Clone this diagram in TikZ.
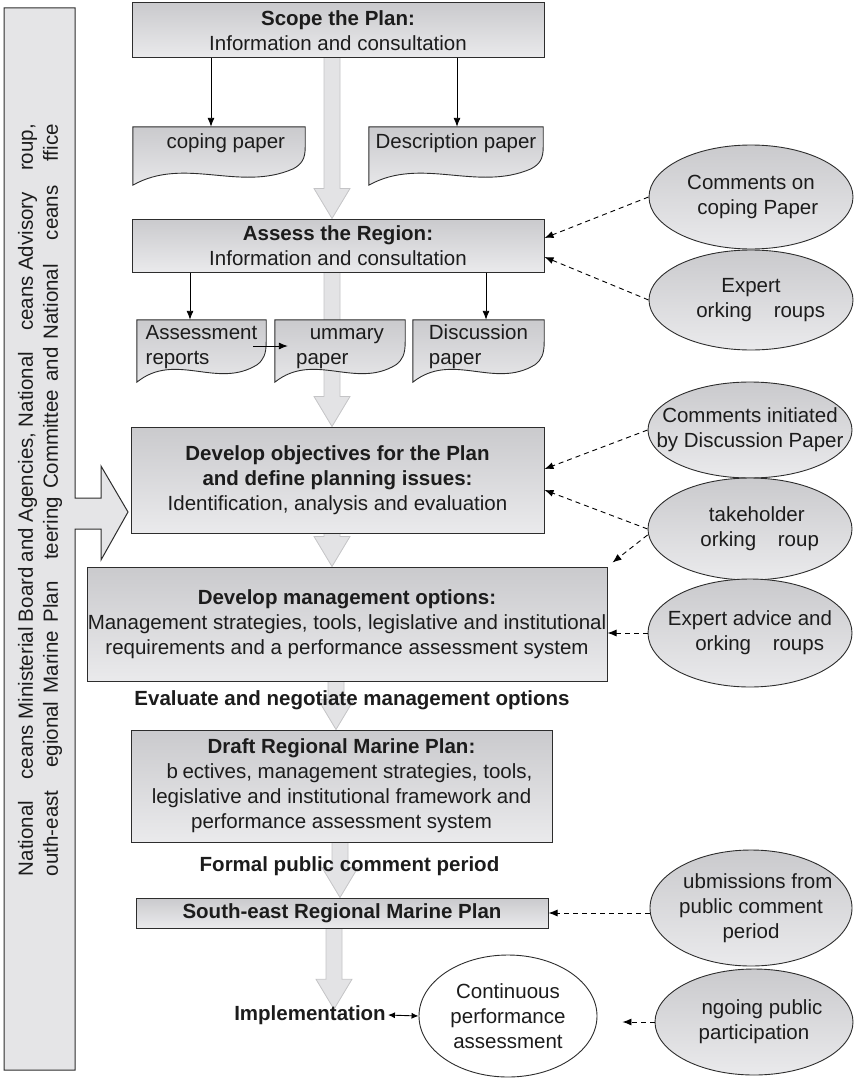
\documentclass[tikz,border=0pt]{standalone}
\usepackage{fontspec}
\setmainfont{Liberation Sans}
\usetikzlibrary{arrows.meta,calc,shapes.geometric,backgrounds}
\definecolor{boxtop}{RGB}{202,202,205}
\definecolor{boxbot}{RGB}{234,234,236}
\definecolor{lbfill}{RGB}{229,229,231}
\definecolor{linec}{RGB}{45,45,45}
\definecolor{arrfill}{RGB}{227,227,229}
\definecolor{arrline}{RGB}{196,196,198}
\definecolor{txt}{RGB}{28,28,28}
\newcommand\fatarrow[3]{\path[fatarr] let \p1=(#1), \p2=(#2), \p3=(#3,0) in
  (\x3-8pt,\y1+2pt) -- (\x3-8pt,\y2+30pt) -- (\x3-18pt,\y2+30pt) -- (\x3,\y2)
  -- (\x3+18pt,\y2+30pt) -- (\x3+8pt,\y2+30pt) -- (\x3+8pt,\y1+2pt) -- cycle;}
\newcommand\docshape[2]{\path[docsty] let \p1=(#1.north west), \p2=(#1.south east),
  \n1={(\x2)-(\x1)}, \n2={(\y1)-(\y2)+#2} in
  (\x1,\y1) -- (\x2,\y1) -- (\x2,\y1-0.35*\n2)
  .. controls (\x2,\y1-0.55*\n2) and (\x2-0.02*\n1,\y1-0.64*\n2) .. (\x2-0.07*\n1,\y1-0.72*\n2)
  .. controls (\x1+0.62*\n1,\y1-1.12*\n2) and (\x1+0.3*\n1,\y1-0.5*\n2) .. (\x1,\y1-\n2) -- cycle;}
\begin{document}
\begin{tikzpicture}[x=1pt,y=1pt,
  font=\fontsize{20.5}{25}\selectfont, text=txt,
  box/.style={rectangle,draw=linec,line width=1pt,top color=boxtop,bottom color=boxbot,align=center,inner sep=0pt},
  doctext/.style={rectangle,align=left,inner sep=0pt},
  docsty/.style={draw=linec,line width=0.9pt,top color=boxtop,bottom color=boxbot},
  oval/.style={ellipse,draw=linec,line width=0.9pt,top color=boxtop,bottom color=boxbot,inner sep=-40pt,align=center},
  whiteoval/.style={ellipse,draw=linec,line width=0.9pt,fill=white,inner sep=-40pt,align=center},
  lbox/.style={draw=linec,line width=1pt,fill=lbfill},
  fatarr/.style={fill=arrfill,draw=arrline,line width=0.8pt},
  plain/.style={inner sep=2pt,font=\fontsize{20.5}{25}\selectfont\bfseries},
  solidarr/.style={draw=black,line width=0.9pt,-{Latex[length=9pt,width=7pt]}},
  dasharr/.style={draw=black,line width=0.9pt,dash pattern=on 5pt off 4pt,-{Latex[length=9pt,width=7pt]}},
  dblarr/.style={draw=black,line width=0.9pt,{Latex[length=7pt,width=6pt]}-{Latex[length=7pt,width=6pt]}}
]
\useasboundingbox (0,0) rectangle (854,-1081);

% main boxes
\node[box,minimum width=412pt,minimum height=55pt] (scope) at (338,-30.5)
  {\textbf{Scope the Plan:}\\Information and consultation};
\node[box,minimum width=412pt,minimum height=53pt] (assess) at (338,-245.5)
  {\textbf{Assess the Region:}\\Information and consultation};
\node[box,minimum width=413pt,minimum height=106pt] (obj) at (337.5,-480)
  {\textbf{Develop objectives for the Plan}\\\textbf{and define planning issues:}\\Identification, analysis and evaluation};
\node[box,minimum width=520pt,minimum height=114pt] (mgmt) at (347,-624)
  {\textbf{Develop management options:}\\Management strategies, tools, legislative and institutional\\requirements and a performance assessment system};
\node[box,minimum width=421pt,minimum height=112pt] (draft) at (341.5,-786)
  {\textbf{Draft Regional Marine Plan:}\\\phantom{O}b\phantom{j}ectives, management strategies, tools,\\legislative and institutional framework and\\performance assessment system};
\node[box,minimum width=412pt,minimum height=30pt] (se) at (342,-913)
  {\textbf{South-east Regional Marine Plan}};

% free texts
\node[plain] (evaltxt) at (352,-700) {Evaluate and negotiate management options};
\node[plain] (formal) at (349.5,-866) {Formal public comment period};
\node[plain] (impl) at (310,-1015) {Implementation};

% documents (text areas)
\node[doctext,minimum width=172pt,minimum height=32pt] (sp) at (219,-143) {\phantom{S}coping paper};
\node[doctext,minimum width=174pt,minimum height=32pt] (dp) at (456,-143) {Description paper};
\node[doctext,minimum width=129pt,minimum height=54pt] (ar) at (201.5,-347) {Assessment\\reports};
\node[doctext,minimum width=130pt,minimum height=54pt] (sum) at (340,-347) {\phantom{S}ummary\\paper};
\node[doctext,minimum width=131pt,minimum height=54pt] (dis) at (478.5,-347) {Discussion\\paper};

% left vertical text
\node[rotate=90,inner sep=0pt] (lbt) at (40,-500)
  {\parbox{752pt}{\parfillskip=0pt National \phantom{O}ceans Ministerial Board and Agencies, National \phantom{O}ceans Advisory \phantom{G}roup,\linebreak
  outh-east \phantom{R}egional Marine Plan \phantom{S}teering Committee and National \phantom{O}ceans \phantom{O}ffice}};

% ellipses
\node[oval,minimum width=204pt,minimum height=104pt] (c1) at (751,-197) {Comments on\\\phantom{S}coping Paper};
\node[oval,minimum width=204pt,minimum height=100pt] (e1) at (751,-300) {Expert\\\phantom{W}orking \phantom{G}roups};
\node[oval,minimum width=204pt,minimum height=96pt] (c2) at (750,-430) {Comments initiated\\by Discussion Paper};
\node[oval,minimum width=204pt,minimum height=102pt] (sh) at (750,-529) {\phantom{S}takeholder\\\phantom{W}orking \phantom{G}roup};
\node[oval,minimum width=204pt,minimum height=108pt] (ea) at (750,-633) {Expert advice and\\\phantom{W}orking \phantom{G}roups};
\node[oval,minimum width=202pt,minimum height=116pt] (sub) at (751,-908) {\phantom{S}ubmissions from\\public comment\\period};
\node[whiteoval,minimum width=178pt,minimum height=122pt] (cont) at (508,-1016) {Continuous\\performance\\assessment};
\node[oval,minimum width=198pt,minimum height=106pt] (og) at (754,-1022) {\phantom{O}ngoing public\\participation};

\begin{pgfonlayer}{background}
  % left box with arrow
  \path[lbox] (4,-8) -- (75,-8) -- (75,-498) -- (101,-498) -- (101,-466) -- (128,-512)
    -- (101,-560) -- (101,-529) -- (75,-529) -- (75,-1070) -- (4,-1070) -- cycle;
  % fat grey arrows
  \fatarrow{scope.south}{assess.north}{332}
  \fatarrow{assess.south}{obj.north}{332}
  \fatarrow{obj.south}{mgmt.north}{332}
  \fatarrow{mgmt.south}{draft.north}{336}
  \fatarrow{draft.south}{se.north}{340}
  \fatarrow{se.south}{[yshift=-6pt]impl.north}{334}
  % documents
  \docshape{sp}{26}
  \docshape{dp}{26}
  \docshape{ar}{8}
  \docshape{sum}{8}
  \docshape{dis}{8}
\end{pgfonlayer}

% solid connectors
\draw[solidarr] ([xshift=-8pt]sp.north |- scope.south) -- ([xshift=-8pt]sp.north);
\draw[solidarr] ([xshift=1pt]dp.north |- scope.south) -- ([xshift=1pt]dp.north);
\draw[solidarr] ([xshift=-11.5pt]ar.north |- assess.south) -- ([xshift=-11.5pt]ar.north);
\draw[solidarr] ([xshift=7.5pt]dis.north |- assess.south) -- ([xshift=7.5pt]dis.north);
\draw[solidarr] ([shift={(-13pt,1pt)}]ar.east) -- ([shift={(13pt,1pt)}]sum.west);

% dashed connectors
\draw[dasharr] (c1.west) -- ([yshift=7.5pt]assess.east);
\draw[dasharr] (e1.west) -- ([yshift=-11.5pt]assess.east);
\draw[dasharr] (c2.west) -- ([yshift=11pt]obj.east);
\draw[dasharr] (sh.west) -- ([yshift=-10pt]obj.east);
\draw[dasharr] ([yshift=-6pt]sh.west) -- ([shift={(5pt,4pt)}]mgmt.north east);
\draw[dasharr] (ea.west) -- (ea.west -| mgmt.east);
\draw[dasharr] (sub.west |- se.east) -- (se.east);
\draw[dasharr,shorten >=25pt] (og.west) -- (og.west -| cont.east);
\draw[dblarr] (impl.east) -- (cont.west);
\end{tikzpicture}
\end{document}
